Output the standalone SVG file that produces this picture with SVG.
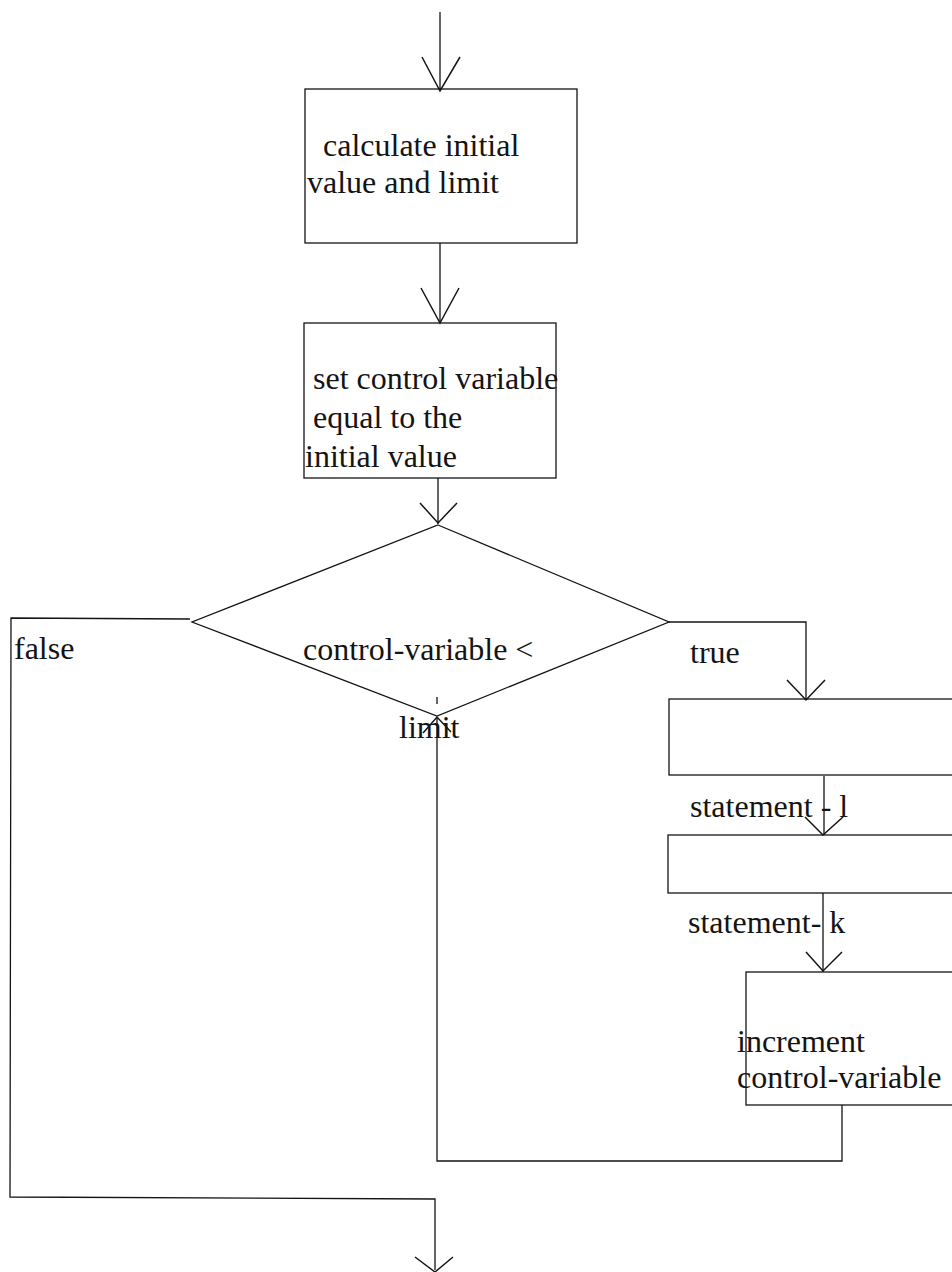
<svg xmlns="http://www.w3.org/2000/svg" width="952" height="1272" viewBox="0 0 952 1272">
  <style>
    .shape { fill: #ffffff; stroke: #141414; stroke-width: 1.3; }
    .line { fill: none; stroke: #141414; stroke-width: 1.3; }
    .head { fill: none; stroke: #141414; stroke-width: 1.5; }
    .label { font-family: "Liberation Serif", "Times New Roman", serif; font-size: 32px; fill: #141414; }
  </style>
  <rect width="952" height="1272" fill="#ffffff"/>

  <g id="node-init">
    <rect class="shape" x="305" y="89" width="272" height="154"/>
    <text class="label" x="323" y="156">calculate initial</text>
    <text class="label" x="307" y="193">value and limit</text>
  </g>

  <g id="node-set">
    <rect class="shape" x="304" y="323" width="252" height="155"/>
    <text class="label" x="313" y="389">set control variable</text>
    <text class="label" x="313" y="428">equal to the</text>
    <text class="label" x="305" y="467">initial value</text>
  </g>

  <g id="node-decision">
    <polygon class="shape" points="438,525 669,622 437,716 192,622"/>
    <text class="label" x="303" y="660">control-variable &lt;</text>
    <text class="label" x="399" y="738">limit</text>
  </g>

  <g id="label-false">
    <text class="label" x="14" y="659">false</text>
  </g>
  <g id="label-true">
    <text class="label" x="690" y="663">true</text>
  </g>

  <g id="node-statement-1">
    <rect class="shape" x="669" y="699" width="300" height="76"/>
  </g>
  <text class="label" x="690" y="817">statement - l</text>

  <g id="node-statement-k">
    <rect class="shape" x="668" y="835" width="300" height="58"/>
  </g>
  <text class="label" x="688" y="933">statement- k</text>

  <g id="node-increment">
    <rect class="shape" x="746" y="972" width="230" height="133" fill="none"/>
    <text class="label" x="737" y="1052">increment</text>
    <text class="label" x="737" y="1088">control-variable</text>
  </g>

  <!-- connectors -->
  <g id="connectors">
    <!-- entry -->
    <line class="line" x1="440" y1="12" x2="440" y2="90"/>
    <polyline class="head" points="422,57 440,91 460,57"/>
    <!-- box 1 to box 2 -->
    <line class="line" x1="440" y1="243" x2="440" y2="323"/>
    <polyline class="head" points="421,288 440,323 459,288"/>
    <!-- box 2 to decision -->
    <line class="line" x1="438" y1="478" x2="438" y2="524"/>
    <polyline class="head" points="420,503 438,523 457,503"/>
    <!-- true branch -->
    <polyline class="line" points="669,622 806,622 806,699"/>
    <polyline class="head" points="787,680 806,700 825,680"/>
    <!-- statement 1 to statement k -->
    <line class="line" x1="824" y1="776" x2="824" y2="835"/>
    <polyline class="head" points="805,817 823,835 843,817"/>
    <!-- statement k to increment -->
    <line class="line" x1="823" y1="893" x2="823" y2="972"/>
    <polyline class="head" points="806,952 823,971 842,952"/>
    <!-- loop back to decision -->
    <polyline class="line" points="842,1105 842,1161 437,1161 437,717"/>
    <polyline class="head" points="423,733 437,717 451,732"/>
    <line class="line" x1="437" y1="697" x2="437" y2="704"/>
    <!-- false branch / exit -->
    <polyline class="line" points="190,619 11,618 10,1197 435,1199 435,1270"/>
    <polyline class="head" points="415,1257 435,1272 453,1257"/>
  </g>
</svg>
